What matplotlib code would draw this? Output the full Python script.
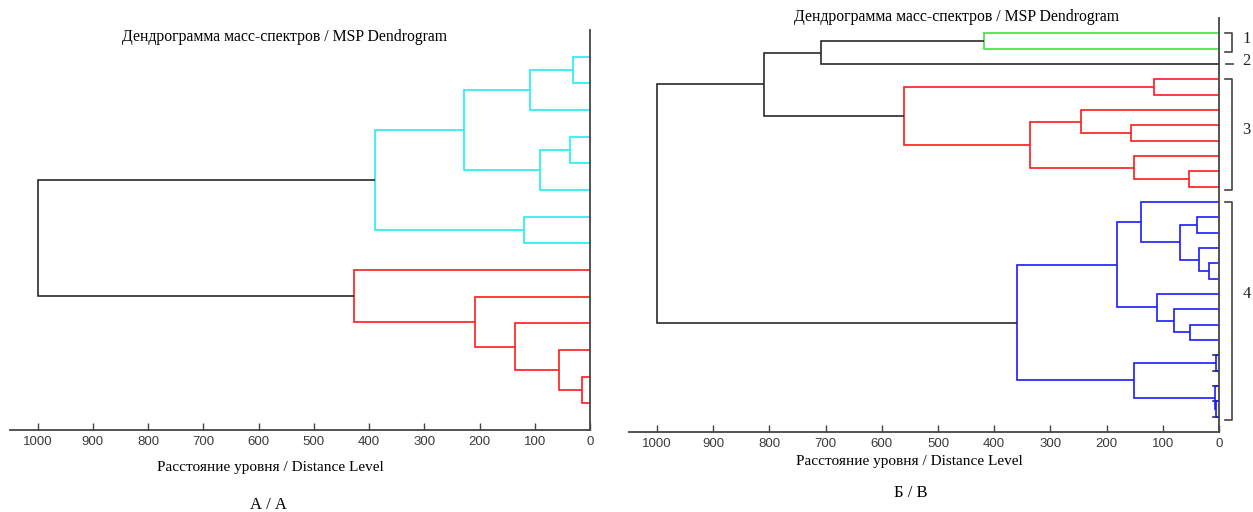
import numpy as np
import matplotlib
matplotlib.use('Agg')
import matplotlib.pyplot as plt

#%% data
# merges: (child a, child b) -> leaves are 0..n-1, new nodes are n, n+1, ...
left_n_leaves = 14
left_pairs = [(0, 1), (14, 2), (3, 4), (16, 5), (15, 17), (6, 7), (18, 19),
              (12, 13), (11, 21), (10, 22), (9, 23), (8, 24), (20, 25)]
left_heights = [30, 109, 36, 91, 228, 119, 389,
                14, 56, 136, 208, 428, 1000]
left_groups = ['c', 'c', 'c', 'c', 'c', 'c', 'c',
               'r', 'r', 'r', 'r', 'r', 'k']

right_n_leaves = 26
right_pairs = [(0, 1), (26, 2),
               (3, 4), (6, 7), (5, 29), (9, 10), (8, 31), (30, 32), (28, 33),
               (27, 34),
               (12, 13), (15, 16), (14, 37), (36, 38), (11, 39),
               (19, 20), (18, 41), (17, 42), (40, 43),
               (21, 22), (24, 25), (23, 46), (45, 47), (44, 48),
               (35, 49)]
right_heights = [418, 709,
                 115, 156, 245, 54, 152, 337, 560,
                 809,
                 40, 18, 36, 69, 138,
                 52, 80, 110, 182,
                 6, 6, 8, 151, 359,
                 1000]
right_groups = ['g', 'k',
                'r', 'r', 'r', 'r', 'r', 'r', 'r',
                'k',
                'b', 'b', 'b', 'b', 'b',
                'b', 'b', 'b', 'b',
                'b', 'b', 'b', 'b', 'b',
                'k']
# leaves with tiny merges get a short dark stub
right_stub_leaves = [21, 22, 23, 24, 25]

# cluster brackets on the right panel
bracket_labels = ['1', '2', '3', '4']
bracket_first = [0, 2, 3, 11]
bracket_last = [1, 2, 10, 25]
bracket_label_pos = [0.4, 1.8, 6.3, 17.0]

ticks = [1000, 900, 800, 700, 600, 500, 400, 300, 200, 100, 0]

title = 'Дендрограмма масс-спектров / MSP Dendrogram'
xlab = 'Расстояние уровня / Distance Level'
sub_left = 'А / А'
sub_right = 'Б / В'

colors = {'c': '#22eeee', 'r': '#ff1a1a', 'g': '#44e044', 'b': '#1a1aff', 'k': '#2a2a2a'}
W, H = 1253, 512
serif = ['Liberation Serif', 'DejaVu Serif']
sans = ['Liberation Sans', 'DejaVu Sans']

#%%
def draw_dendro(ax, n_leaves, pairs, heights, groups):
    ypos = list(np.arange(n_leaves, dtype=float))
    hpos = [0.0] * n_leaves
    for (a, b), h, g in zip(pairs, heights, groups):
        xs = [hpos[a], h, h, hpos[b]]
        ys = [ypos[a], ypos[a], ypos[b], ypos[b]]
        ax.plot(xs, ys, color=colors[g], lw=1.2, solid_capstyle='butt',
                solid_joinstyle='miter')
        ypos.append((ypos[a] + ypos[b]) / 2)
        hpos.append(h)


def style_axes(ax, n_leaves):
    ax.set_xlim(1050, 0)
    ax.set_ylim(n_leaves, -1)
    for s in ['top', 'left']:
        ax.spines[s].set_visible(False)
    for s in ['bottom', 'right']:
        ax.spines[s].set_color('#444444')
        ax.spines[s].set_linewidth(1.3)
    ax.set_yticks([])
    ax.set_xticks(ticks)
    ax.set_xticklabels([str(t) for t in ticks])
    ax.tick_params(axis='x', direction='in', length=5, width=1.0,
                   color='#444444', labelcolor='#3a3a3a', labelsize=9.5, pad=4.5)
    for lab in ax.get_xticklabels():
        lab.set_family(sans)


fig = plt.figure(figsize=(W / 100, H / 100), dpi=100)

ax1 = fig.add_axes([10 / W, 1 - 430 / H, 580 / W, 400 / H])
draw_dendro(ax1, left_n_leaves, left_pairs, left_heights, left_groups)
style_axes(ax1, left_n_leaves)

ax2 = fig.add_axes([629 / W, 1 - 432 / H, 590 / W, 414 / H])
for i in right_stub_leaves:
    ax2.plot([0, 11], [i, i], color='#333333', lw=1.2)
draw_dendro(ax2, right_n_leaves, right_pairs, right_heights, right_groups)
style_axes(ax2, right_n_leaves)

# brackets
for lab, f, l, yl in zip(bracket_labels, bracket_first, bracket_last, bracket_label_pos):
    if f == l:
        ax2.plot([-12, -25], [f, f], color='#444444', lw=1.2, clip_on=False)
    else:
        top, bot = f - 0.02, l + 0.2
        ax2.plot([-10, -24, -24, -10], [top, top, bot, bot], color='#444444',
                 lw=1.2, clip_on=False)
    ax2.text(-49, yl, lab, ha='center', va='center', fontsize=12,
             family=serif, color='#222222', clip_on=False)

# titles and labels
fs = 11.3
fig.text(285 / W, 1 - 37 / H, title, ha='center', va='center', fontsize=fs, family=serif)
fig.text(957 / W, 1 - 17 / H, title, ha='center', va='center', fontsize=fs, family=serif)
fig.text(270 / W, 1 - 468 / H, xlab, ha='center', va='center', fontsize=11, family=serif)
fig.text(909 / W, 1 - 462 / H, xlab, ha='center', va='center', fontsize=11, family=serif)
fig.text(268 / W, 1 - 505 / H, sub_left, ha='center', va='center', fontsize=12, family=serif)
fig.text(911 / W, 1 - 493 / H, sub_right, ha='center', va='center', fontsize=12, family=serif)

fig.savefig('out.png', dpi=100)
